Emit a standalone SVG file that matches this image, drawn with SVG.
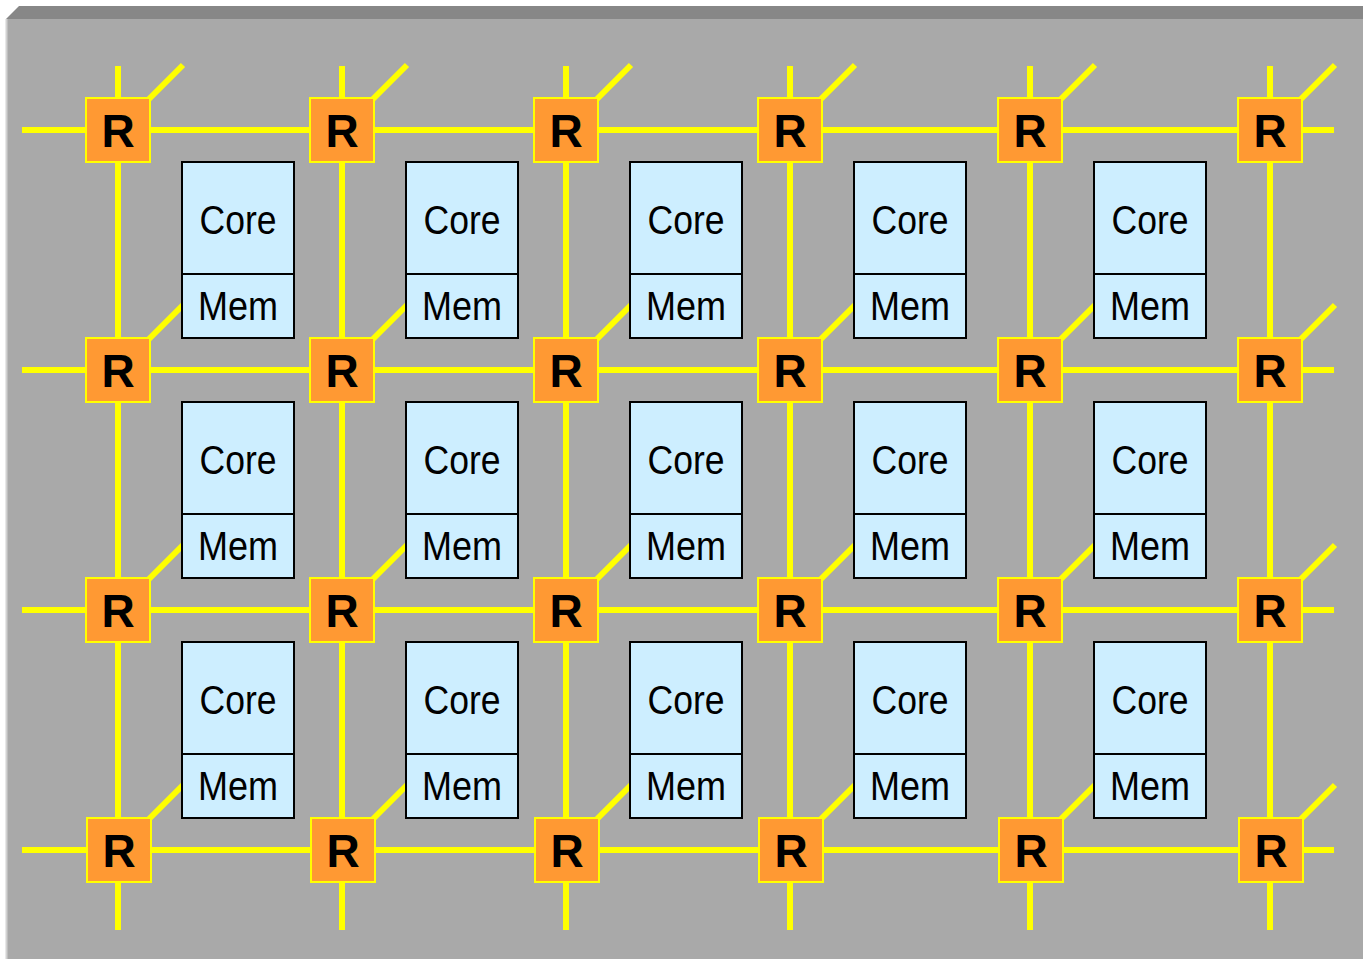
<svg xmlns="http://www.w3.org/2000/svg" width="1363" height="959" viewBox="0 0 1363 959">
<style>
.link{stroke:#ffff00;stroke-width:6;fill:none}
.rt rect{fill:#ff9933;stroke:#ffff00;stroke-width:2}
.rt text{font-family:"Liberation Sans",Arial,sans-serif;font-weight:bold;font-size:46px;fill:#000;text-anchor:middle}
.pe rect{fill:#cdeeff;stroke:#000;stroke-width:2}
.pe line{stroke:#000;stroke-width:2}
.pe text{font-family:"Liberation Sans",Arial,sans-serif;font-size:41px;fill:#000;text-anchor:middle}
</style>
<rect x="0" y="0" width="1363" height="959" fill="#ffffff"/>
<g id="panel">
<polygon points="6,19 19,6 1363,6 1363,19" fill="#878787"/>
<rect x="6" y="19" width="1357" height="940" fill="#a9a9a9"/>
<line x1="6.5" y1="19" x2="6.5" y2="959" stroke="#d2d2d2" stroke-width="2"/>
</g>
<g id="connectors">
<line class="link" x1="22" y1="130" x2="1334" y2="130"/>
<line class="link" x1="22" y1="370" x2="1334" y2="370"/>
<line class="link" x1="22" y1="610" x2="1334" y2="610"/>
<line class="link" x1="22" y1="850" x2="1334" y2="850"/>
<line class="link" x1="118" y1="66" x2="118" y2="930"/>
<line class="link" x1="342" y1="66" x2="342" y2="930"/>
<line class="link" x1="566" y1="66" x2="566" y2="930"/>
<line class="link" x1="790" y1="66" x2="790" y2="930"/>
<line class="link" x1="1030" y1="66" x2="1030" y2="930"/>
<line class="link" x1="1270" y1="66" x2="1270" y2="930"/>
<path class="link" d="M149,99 L183,65 M373,99 L407,65 M597,99 L631,65 M821,99 L855,65 M1061,99 L1095,65 M1301,99 L1335,65"/>
<path class="link" d="M149,339 L183,305 M373,339 L407,305 M597,339 L631,305 M821,339 L855,305 M1061,339 L1095,305 M1301,339 L1335,305"/>
<path class="link" d="M149,579 L183,545 M373,579 L407,545 M597,579 L631,545 M821,579 L855,545 M1061,579 L1095,545 M1301,579 L1335,545"/>
<path class="link" d="M149,819 L183,785 M373,819 L407,785 M597,819 L631,785 M821,819 L855,785 M1061,819 L1095,785 M1301,819 L1335,785"/>
</g>
<g id="pe-1-1" class="pe"><rect x="182" y="162" width="112" height="176"/><line x1="182" y1="274" x2="294" y2="274"/><text x="238" y="234" textLength="77" lengthAdjust="spacingAndGlyphs">Core</text><text x="238" y="320" textLength="80" lengthAdjust="spacingAndGlyphs">Mem</text></g>
<g id="pe-1-2" class="pe"><rect x="406" y="162" width="112" height="176"/><line x1="406" y1="274" x2="518" y2="274"/><text x="462" y="234" textLength="77" lengthAdjust="spacingAndGlyphs">Core</text><text x="462" y="320" textLength="80" lengthAdjust="spacingAndGlyphs">Mem</text></g>
<g id="pe-1-3" class="pe"><rect x="630" y="162" width="112" height="176"/><line x1="630" y1="274" x2="742" y2="274"/><text x="686" y="234" textLength="77" lengthAdjust="spacingAndGlyphs">Core</text><text x="686" y="320" textLength="80" lengthAdjust="spacingAndGlyphs">Mem</text></g>
<g id="pe-1-4" class="pe"><rect x="854" y="162" width="112" height="176"/><line x1="854" y1="274" x2="966" y2="274"/><text x="910" y="234" textLength="77" lengthAdjust="spacingAndGlyphs">Core</text><text x="910" y="320" textLength="80" lengthAdjust="spacingAndGlyphs">Mem</text></g>
<g id="pe-1-5" class="pe"><rect x="1094" y="162" width="112" height="176"/><line x1="1094" y1="274" x2="1206" y2="274"/><text x="1150" y="234" textLength="77" lengthAdjust="spacingAndGlyphs">Core</text><text x="1150" y="320" textLength="80" lengthAdjust="spacingAndGlyphs">Mem</text></g>
<g id="pe-2-1" class="pe"><rect x="182" y="402" width="112" height="176"/><line x1="182" y1="514" x2="294" y2="514"/><text x="238" y="474" textLength="77" lengthAdjust="spacingAndGlyphs">Core</text><text x="238" y="560" textLength="80" lengthAdjust="spacingAndGlyphs">Mem</text></g>
<g id="pe-2-2" class="pe"><rect x="406" y="402" width="112" height="176"/><line x1="406" y1="514" x2="518" y2="514"/><text x="462" y="474" textLength="77" lengthAdjust="spacingAndGlyphs">Core</text><text x="462" y="560" textLength="80" lengthAdjust="spacingAndGlyphs">Mem</text></g>
<g id="pe-2-3" class="pe"><rect x="630" y="402" width="112" height="176"/><line x1="630" y1="514" x2="742" y2="514"/><text x="686" y="474" textLength="77" lengthAdjust="spacingAndGlyphs">Core</text><text x="686" y="560" textLength="80" lengthAdjust="spacingAndGlyphs">Mem</text></g>
<g id="pe-2-4" class="pe"><rect x="854" y="402" width="112" height="176"/><line x1="854" y1="514" x2="966" y2="514"/><text x="910" y="474" textLength="77" lengthAdjust="spacingAndGlyphs">Core</text><text x="910" y="560" textLength="80" lengthAdjust="spacingAndGlyphs">Mem</text></g>
<g id="pe-2-5" class="pe"><rect x="1094" y="402" width="112" height="176"/><line x1="1094" y1="514" x2="1206" y2="514"/><text x="1150" y="474" textLength="77" lengthAdjust="spacingAndGlyphs">Core</text><text x="1150" y="560" textLength="80" lengthAdjust="spacingAndGlyphs">Mem</text></g>
<g id="pe-3-1" class="pe"><rect x="182" y="642" width="112" height="176"/><line x1="182" y1="754" x2="294" y2="754"/><text x="238" y="714" textLength="77" lengthAdjust="spacingAndGlyphs">Core</text><text x="238" y="800" textLength="80" lengthAdjust="spacingAndGlyphs">Mem</text></g>
<g id="pe-3-2" class="pe"><rect x="406" y="642" width="112" height="176"/><line x1="406" y1="754" x2="518" y2="754"/><text x="462" y="714" textLength="77" lengthAdjust="spacingAndGlyphs">Core</text><text x="462" y="800" textLength="80" lengthAdjust="spacingAndGlyphs">Mem</text></g>
<g id="pe-3-3" class="pe"><rect x="630" y="642" width="112" height="176"/><line x1="630" y1="754" x2="742" y2="754"/><text x="686" y="714" textLength="77" lengthAdjust="spacingAndGlyphs">Core</text><text x="686" y="800" textLength="80" lengthAdjust="spacingAndGlyphs">Mem</text></g>
<g id="pe-3-4" class="pe"><rect x="854" y="642" width="112" height="176"/><line x1="854" y1="754" x2="966" y2="754"/><text x="910" y="714" textLength="77" lengthAdjust="spacingAndGlyphs">Core</text><text x="910" y="800" textLength="80" lengthAdjust="spacingAndGlyphs">Mem</text></g>
<g id="pe-3-5" class="pe"><rect x="1094" y="642" width="112" height="176"/><line x1="1094" y1="754" x2="1206" y2="754"/><text x="1150" y="714" textLength="77" lengthAdjust="spacingAndGlyphs">Core</text><text x="1150" y="800" textLength="80" lengthAdjust="spacingAndGlyphs">Mem</text></g>
<g id="r-1-1" class="rt"><rect x="86" y="98" width="64" height="64"/><text x="118" y="147">R</text></g>
<g id="r-1-2" class="rt"><rect x="310" y="98" width="64" height="64"/><text x="342" y="147">R</text></g>
<g id="r-1-3" class="rt"><rect x="534" y="98" width="64" height="64"/><text x="566" y="147">R</text></g>
<g id="r-1-4" class="rt"><rect x="758" y="98" width="64" height="64"/><text x="790" y="147">R</text></g>
<g id="r-1-5" class="rt"><rect x="998" y="98" width="64" height="64"/><text x="1030" y="147">R</text></g>
<g id="r-1-6" class="rt"><rect x="1238" y="98" width="64" height="64"/><text x="1270" y="147">R</text></g>
<g id="r-2-1" class="rt"><rect x="86" y="338" width="64" height="64"/><text x="118" y="387">R</text></g>
<g id="r-2-2" class="rt"><rect x="310" y="338" width="64" height="64"/><text x="342" y="387">R</text></g>
<g id="r-2-3" class="rt"><rect x="534" y="338" width="64" height="64"/><text x="566" y="387">R</text></g>
<g id="r-2-4" class="rt"><rect x="758" y="338" width="64" height="64"/><text x="790" y="387">R</text></g>
<g id="r-2-5" class="rt"><rect x="998" y="338" width="64" height="64"/><text x="1030" y="387">R</text></g>
<g id="r-2-6" class="rt"><rect x="1238" y="338" width="64" height="64"/><text x="1270" y="387">R</text></g>
<g id="r-3-1" class="rt"><rect x="86" y="578" width="64" height="64"/><text x="118" y="627">R</text></g>
<g id="r-3-2" class="rt"><rect x="310" y="578" width="64" height="64"/><text x="342" y="627">R</text></g>
<g id="r-3-3" class="rt"><rect x="534" y="578" width="64" height="64"/><text x="566" y="627">R</text></g>
<g id="r-3-4" class="rt"><rect x="758" y="578" width="64" height="64"/><text x="790" y="627">R</text></g>
<g id="r-3-5" class="rt"><rect x="998" y="578" width="64" height="64"/><text x="1030" y="627">R</text></g>
<g id="r-3-6" class="rt"><rect x="1238" y="578" width="64" height="64"/><text x="1270" y="627">R</text></g>
<g id="r-4-1" class="rt"><rect x="87" y="818" width="64" height="64"/><text x="119" y="867">R</text></g>
<g id="r-4-2" class="rt"><rect x="311" y="818" width="64" height="64"/><text x="343" y="867">R</text></g>
<g id="r-4-3" class="rt"><rect x="535" y="818" width="64" height="64"/><text x="567" y="867">R</text></g>
<g id="r-4-4" class="rt"><rect x="759" y="818" width="64" height="64"/><text x="791" y="867">R</text></g>
<g id="r-4-5" class="rt"><rect x="999" y="818" width="64" height="64"/><text x="1031" y="867">R</text></g>
<g id="r-4-6" class="rt"><rect x="1239" y="818" width="64" height="64"/><text x="1271" y="867">R</text></g>
</svg>
